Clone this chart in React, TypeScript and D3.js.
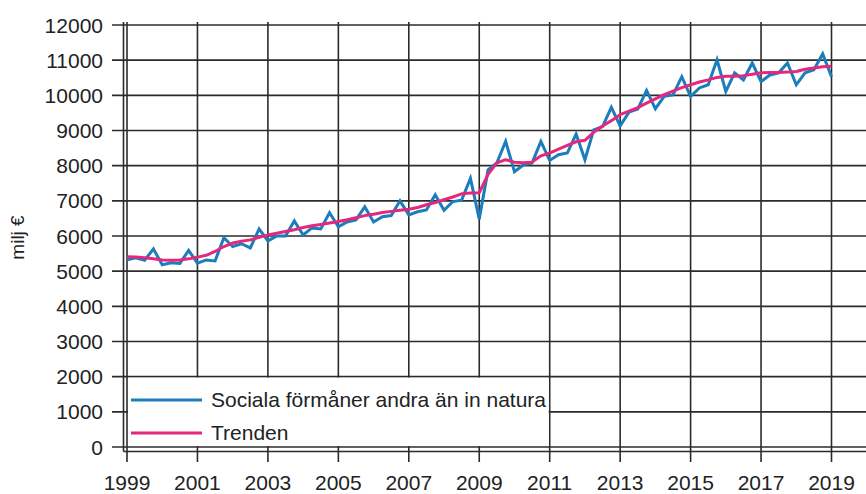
import React from "react";
import * as d3 from "d3";

// quarterly values, 1999 Q1 .. 2019 Q1 (milj €)
const startYear = 1999;
const benefits = [
  5320, 5380, 5310, 5630,
  5180, 5240, 5220, 5590,
  5230, 5320, 5290, 5950,
  5700, 5780, 5660, 6200,
  5860, 6000, 6000, 6430,
  6030, 6230, 6200, 6660,
  6260, 6400, 6460, 6830,
  6400, 6550, 6580, 7000,
  6600, 6690, 6740, 7170,
  6730, 6980, 7020, 7640,
  6480, 7880, 8080, 8690,
  7830, 8020, 8080, 8690,
  8150, 8310, 8360, 8900,
  8170, 9020, 9110, 9660,
  9130, 9520, 9610, 10140,
  9620, 9970, 10010, 10530,
  9970, 10210, 10300, 11010,
  10110, 10640, 10440, 10920,
  10390, 10580, 10640, 10920,
  10300, 10640, 10730, 11180,
  10530,
];
const trend = [
  5410, 5400, 5380, 5350,
  5320, 5310, 5320, 5350,
  5400, 5450, 5560, 5700,
  5800, 5850, 5890, 5960,
  6030, 6080, 6130, 6180,
  6240, 6290, 6330, 6370,
  6410, 6460, 6520, 6580,
  6620, 6670, 6700, 6730,
  6760, 6810, 6890, 6950,
  7030, 7110, 7200, 7220,
  7230, 7750, 8080, 8170,
  8100, 8080, 8100, 8280,
  8360, 8470, 8580, 8680,
  8720, 8950, 9130, 9280,
  9450, 9550, 9650, 9780,
  9900, 10020, 10120, 10220,
  10300, 10380, 10440, 10510,
  10540, 10540, 10560, 10600,
  10640, 10650, 10650, 10660,
  10680, 10740, 10780, 10810,
  10830,
];
const yTicks = [0, 1000, 2000, 3000, 4000, 5000, 6000, 7000, 8000, 9000, 10000, 11000, 12000];
const xTicks = [1999, 2001, 2003, 2005, 2007, 2009, 2011, 2013, 2015, 2017, 2019];
const seriesNames = ["Sociala förmåner andra än in natura", "Trenden"];
const yTitle = "milj €";

const W = 866;
const H = 494;
const font = "'Liberation Sans', Arial, sans-serif";
const gridColor = "#2b2b2b";
const textColor = "#222";
const blue = "#1b7dbb";
const pink = "#e5287c";

export default function App() {
  const x = d3.scaleLinear().domain([1999, 2019]).range([127, 831.5]);
  const y = d3.scaleLinear().domain([0, 12000]).range([447, 25]);
  const axisLeft = 123.5;
  const axisBottom = 451.5;
  const top = 22;

  const line = d3
    .line<number>()
    .x((d, i) => x(startYear + i / 4))
    .y((d) => y(d));

  return (
    <div style={{ position: "fixed", left: 0, top: 0, width: W, height: H, overflow: "hidden" }}>
      <svg width={W} height={H} style={{ display: "block", fontFamily: font }}>
        <rect width={W} height={H} fill="#fff" />
        {/* horizontal gridlines + y ticks */}
        {yTicks.map((t) => (
          <g key={"y" + t}>
            <line x1={112} x2={W} y1={y(t)} y2={y(t)} stroke={gridColor} strokeWidth={1.6} />
            <text x={103} y={y(t) + 7.5} textAnchor="end" fontSize={21} fill={textColor}>
              {t}
            </text>
          </g>
        ))}
        {/* vertical gridlines + x ticks */}
        {xTicks.map((t) => (
          <g key={"x" + t}>
            <line x1={x(t)} x2={x(t)} y1={top} y2={462} stroke={gridColor} strokeWidth={1.6} />
            <text x={x(t)} y={490} textAnchor="middle" fontSize={21} fill={textColor}>
              {t}
            </text>
          </g>
        ))}
        {/* axes */}
        <line x1={axisLeft} x2={axisLeft} y1={top} y2={axisBottom} stroke={gridColor} strokeWidth={1.6} />
        <line x1={axisLeft} x2={W} y1={axisBottom} y2={axisBottom} stroke={gridColor} strokeWidth={1.6} />

        {/* series */}
        <path d={line(benefits) || ""} fill="none" stroke={blue} strokeWidth={3} strokeLinejoin="miter" />
        <path d={line(trend) || ""} fill="none" stroke={pink} strokeWidth={3} strokeLinejoin="round" />

        {/* legend */}
        <rect
          x={x(1999) + 1}
          y={y(2000) + 1}
          width={x(2011) - x(1999) - 2}
          height={y(0) - y(2000) - 2}
          fill="#fff"
        />
        {seriesNames.map((name, i) => (
          <g key={name} transform={`translate(0,${400 + i * 33})`}>
            <line x1={131} x2={202} y1={0} y2={0} stroke={i === 0 ? blue : pink} strokeWidth={3} />
            <text x={211} y={6.5} fontSize={21} fill={textColor}>
              {name}
            </text>
          </g>
        ))}

        {/* y title */}
        <text
          transform={`translate(24,237.5) rotate(-90)`}
          textAnchor="middle"
          fontSize={19}
          fill={textColor}
        >
          {yTitle}
        </text>
      </svg>
    </div>
  );
}
